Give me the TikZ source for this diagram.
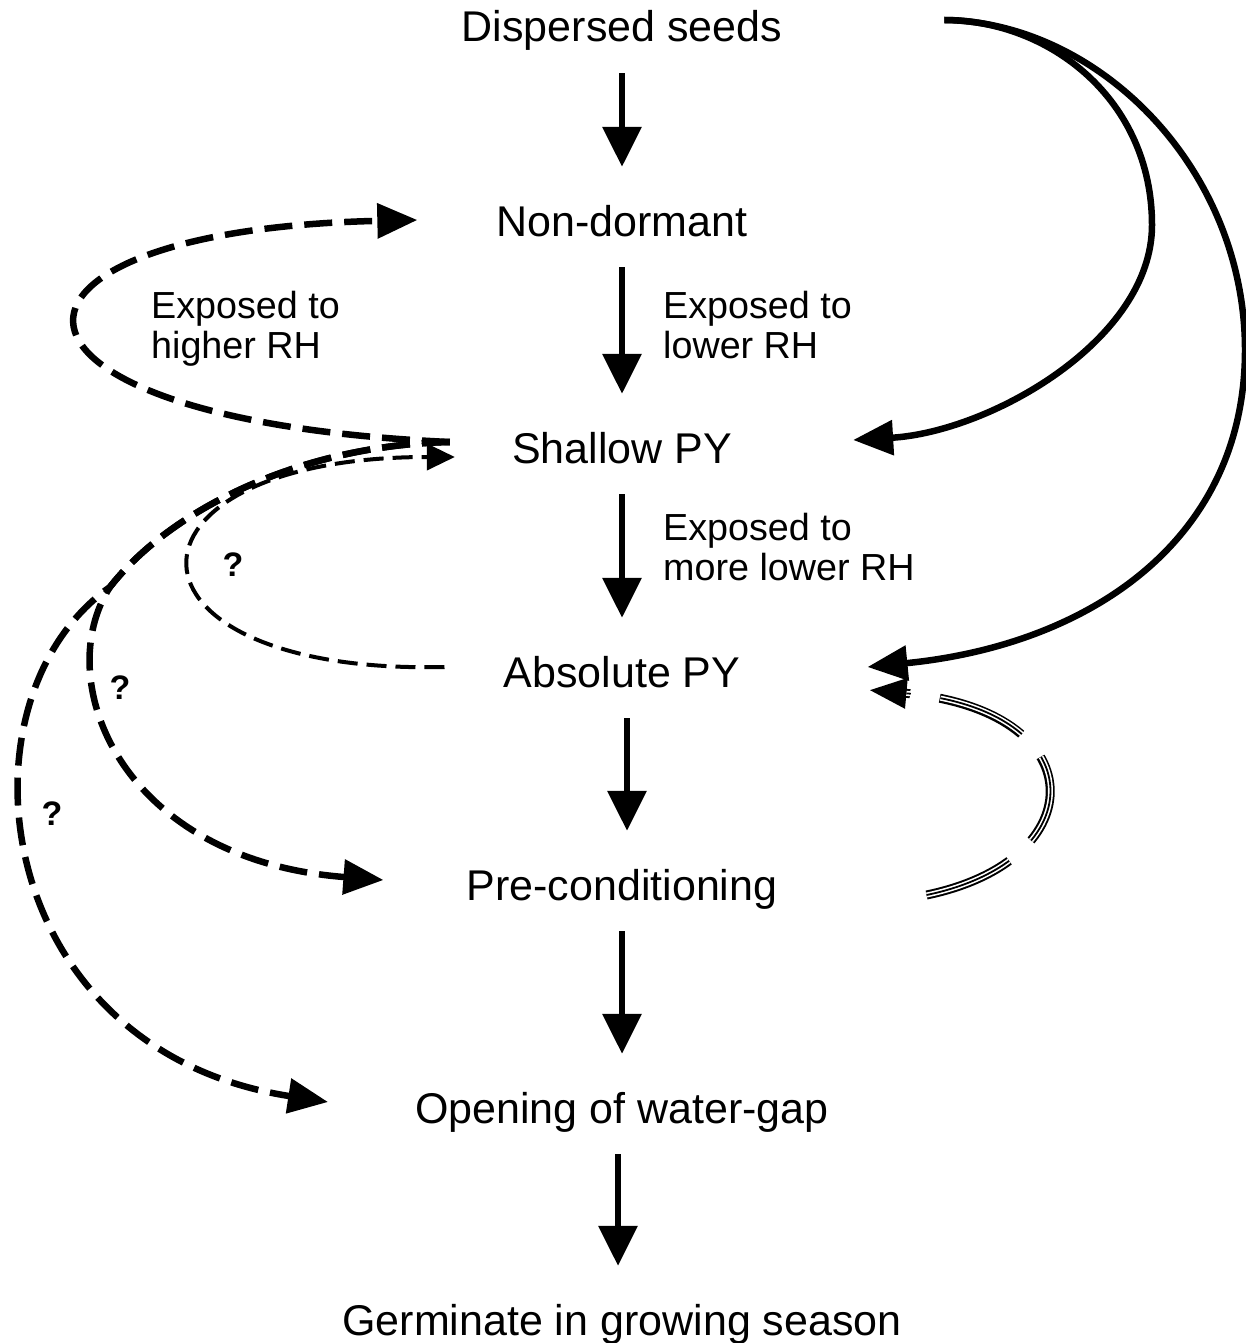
\documentclass[tikz,border=0pt]{standalone}
\usepackage{fontspec}
\setmainfont{Liberation Sans}
\usetikzlibrary{arrows.meta}

\begin{document}
\begin{tikzpicture}[x=1pt,y=-1pt,
 stage/.style={font=\fontsize{43}{50}\selectfont,text height=31pt,text depth=9pt,inner sep=0pt,anchor=base},
 lab/.style={font=\fontsize{37.7}{40}\selectfont,align=left,anchor=north west,inner sep=0pt},
 qm/.style={font=\bfseries\fontsize{34}{40}\selectfont,inner sep=0pt},
 down/.style={-{Triangle[length=40pt,width=38pt]},line width=6.5pt,shorten <=22pt,shorten >=38pt},
 solidc/.style={-{Triangle[length=40pt,width=34pt]},line width=6.5pt},
 dashc/.style={-{Triangle[length=40pt,width=34pt]},line width=6.5pt,dash pattern=on 28pt off 12pt},
 qdash/.style={-{Triangle[length=28pt,width=26pt]},line width=4pt,dash pattern=on 20pt off 9pt},
 trip/.style={-{Triangle[length=38pt,width=28pt]},line width=9pt,dash pattern=on 90pt off 30pt,
   postaction={draw=white,line width=5pt,-,shorten >=38pt},
   postaction={draw=black,line width=1.8pt,-,shorten >=38pt}}]
\useasboundingbox (0,0) rectangle (1245,1343);
% stages
\node[stage] (seeds) at (622,42) {Dispersed seeds};
\node[stage] (nondorm) at (622,236) {Non-dormant};
\node[stage] (shallow) at (622,463) {Shallow PY};
\node[stage] (absolute) at (622,687) {Absolute PY};
\node[stage] (precond) at (622,900) {Pre-conditioning};
\node[stage] (opening) at (622,1123) {Opening of water-gap};
\node[stage] (germ) at (622,1335) {Germinate in growing season};
\draw[down] (seeds) -- (nondorm);
\draw[down] (nondorm) -- (shallow);
\draw[down] (shallow) -- (absolute);
\draw[down] ([xshift=5pt]absolute.south) -- ([xshift=5pt]precond.north);
\draw[down] (precond) -- (opening);
\draw[down] ([xshift=-4pt]opening.south) -- ([xshift=-4pt]germ.north);
% labels
\node[lab] (lbHigher) at (151,291) {Exposed to\\higher RH};
\node[lab] (lbLower) at (663,291) {Exposed to\\lower RH};
\node[lab] (lbMore) at (663,513) {Exposed to\\more lower RH};
\node[qm] (q1) at (233,565) {?};
\node[qm] (q2) at (120,688) {?};
\node[qm] (q3) at (52,814) {?};
% right bypass arcs
\draw[solidc] ([xshift=162pt,yshift=11pt]seeds.east) .. controls (1050,20) and (1152,100) .. (1152,225)
  .. controls (1152,340) and (990,432) .. ([xshift=121pt,yshift=12pt]shallow.east);
\draw[solidc] ([xshift=162pt,yshift=11pt]seeds.east) .. controls (1100,22) and (1245,170) .. (1245,350)
  .. controls (1245,540) and (1090,645) .. ([xshift=127pt,yshift=9pt]absolute.east);
% left loops
\draw[dashc] ([xshift=-62pt,yshift=10pt]shallow.west) .. controls (-40,420) and (-40,230) .. ([xshift=-79pt,yshift=5pt]nondorm.west);
\draw[dashc] ([xshift=-62pt,yshift=10pt]shallow.west) .. controls (300,445) and (170,510) .. (110,587) .. controls (50,680) and (120,860) .. ([xshift=-83pt,yshift=9pt]precond.west);
\draw[dashc] ([xshift=-62pt,yshift=10pt]shallow.west) .. controls (300,445) and (170,510) .. (110,587) .. controls (-50,700) and (-10,1050) .. ([xshift=-87pt,yshift=10pt]opening.west);
\draw[qdash] ([xshift=-59pt,yshift=9pt]absolute.west) .. controls (103,675) and (103,457) .. ([xshift=-57pt,yshift=-5pt]shallow.west);
% back loop
\draw[trip] ([xshift=149pt,yshift=-6pt]precond.east) .. controls (1095,860) and (1095,710) .. ([xshift=128pt,yshift=-14pt]absolute.east);
\end{tikzpicture}
\end{document}
